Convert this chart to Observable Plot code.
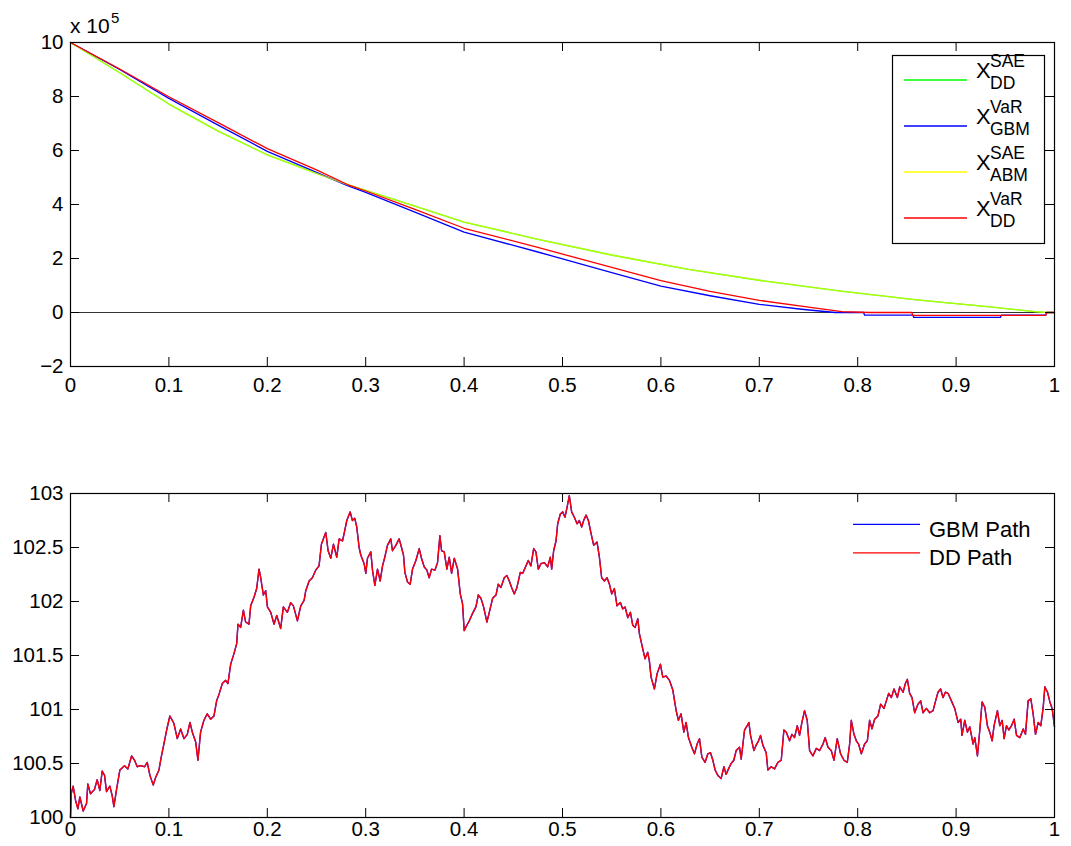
<!DOCTYPE html>
<html><head><meta charset="utf-8">
<script src="https://cdn.jsdelivr.net/npm/d3@7"></script>
<script src="https://cdn.jsdelivr.net/npm/@observablehq/plot@0.6"></script>
<style>
body{margin:0;background:#fff;font-family:"Liberation Sans",Arial,sans-serif;}
#wrap{position:relative;width:1071px;height:846px;overflow:hidden;}
#top,#bot{position:absolute;left:0;}
#top{top:0}
#bot{top:423px}
</style></head><body><div id="wrap"><div id="top"></div><div id="bot"></div></div>
<script>
// ---------- data: top panel (holdings, units of 1e5) ----------
const legendSup = ["SAE", "VaR", "SAE", "VaR"];
const legendSub = ["DD", "GBM", "ABM", "DD"];
const topColors = ["#00ff00", "#0000ff", "#ffff00", "#ff0000"];

const saeDD = [[0,10],[0.05,8.88],[0.1,7.72],[0.15,6.72],[0.2,5.84],[0.25,5.15],[0.2815,4.74],[0.3,4.52],[0.35,3.94],[0.4,3.35],[0.474,2.72],[0.551,2.12],[0.628,1.6],[0.706,1.16],[0.783,0.79],[0.86,0.47],[0.937,0.2],[0.98,0.03],[0.992,0],[1,0]];
const varGBM = [[0,10],[0.05,9.0],[0.1,7.93],[0.15,6.94],[0.2,5.97],[0.25,5.19],[0.2815,4.70],[0.3,4.45],[0.35,3.72],[0.4,2.98],[0.474,2.25],[0.551,1.47],[0.6,0.98],[0.65,0.62],[0.7,0.3],[0.743,0.12],[0.777,0],[0.806,0],[0.807,-0.1],[0.856,-0.1],[0.857,-0.18],[0.945,-0.18],[0.946,-0.1],[0.991,-0.1],[0.992,0],[1,0]];
const saeABM = [[0,10],[0.05,8.88],[0.1,7.72],[0.15,6.72],[0.2,5.84],[0.25,5.15],[0.2815,4.74],[0.3,4.52],[0.35,3.94],[0.4,3.35],[0.474,2.72],[0.551,2.12],[0.628,1.6],[0.706,1.16],[0.783,0.79],[0.86,0.47],[0.937,0.2],[0.98,0.03],[0.992,0],[1,0]];
const varDD = [[0,10],[0.05,9.02],[0.1,7.99],[0.15,7.03],[0.2,6.07],[0.25,5.28],[0.2815,4.74],[0.3,4.5],[0.35,3.82],[0.4,3.12],[0.474,2.42],[0.551,1.66],[0.6,1.18],[0.65,0.78],[0.7,0.45],[0.75,0.2],[0.784,0.03],[0.812,0],[0.855,0],[0.856,-0.11],[0.991,-0.11],[0.992,0],[1,0]];
const topSeries = [saeDD, varGBM, saeABM, varDD];
const topOpacity = [1, 1, 0.7, 1];

const xTicks = [0, 0.1, 0.2, 0.3, 0.4, 0.5, 0.6, 0.7, 0.8, 0.9, 1];
const yTicksTop = [-2, 0, 2, 4, 6, 8, 10];
const yTicksBot = [100, 100.5, 101, 101.5, 102, 102.5, 103];

// ---------- data: bottom panel (price path) ----------
const pathLabels = ["GBM Path", "DD Path"];
const pathColors = ["#0000ff", "#ff0000"];
const pricePath = [
[0,100.00],[0.0007,100.22],[0.0027,100.29],[0.0051,100.16],[0.0075,100.08],[0.0095,100.19],[0.0129,100.06],[0.0163,100.13],[0.0176,100.31],[0.0203,100.22],
[0.0244,100.26],[0.0271,100.35],[0.0298,100.25],[0.0322,100.43],[0.0346,100.39],[0.0366,100.24],[0.0400,100.29],[0.0424,100.20],[0.0441,100.10],[0.0468,100.26],
[0.0502,100.44],[0.0549,100.48],[0.0583,100.45],[0.0621,100.57],[0.0651,100.53],[0.0678,100.47],[0.0712,100.48],[0.0753,100.47],[0.0780,100.51],[0.0807,100.39],
[0.0841,100.30],[0.0865,100.37],[0.0899,100.44],[0.0922,100.56],[0.0949,100.68],[0.0977,100.81],[0.1010,100.94],[0.1034,100.90],[0.1051,100.87],[0.1085,100.73],
[0.1119,100.82],[0.1153,100.73],[0.1187,100.77],[0.1214,100.88],[0.1238,100.79],[0.1272,100.70],[0.1295,100.53],[0.1322,100.79],[0.1356,100.90],[0.1390,100.96],
[0.1424,100.91],[0.1458,100.94],[0.1485,101.08],[0.1509,101.14],[0.1543,101.24],[0.1577,101.27],[0.1600,101.24],[0.1628,101.42],[0.1662,101.52],[0.1689,101.61],
[0.1702,101.79],[0.1729,101.76],[0.1757,101.92],[0.1780,101.81],[0.1814,101.79],[0.1831,101.96],[0.1865,102.04],[0.1892,102.12],[0.1916,102.30],[0.1933,102.22],
[0.1960,102.06],[0.1984,102.10],[0.2001,101.95],[0.2035,101.90],[0.2068,101.79],[0.2096,101.87],[0.2136,101.75],[0.2163,101.95],[0.2204,101.90],[0.2238,101.99],
[0.2265,101.96],[0.2306,101.82],[0.2340,101.96],[0.2374,102.01],[0.2391,102.10],[0.2425,102.19],[0.2458,102.22],[0.2492,102.29],[0.2526,102.33],[0.2550,102.53],
[0.2570,102.58],[0.2594,102.64],[0.2618,102.47],[0.2645,102.40],[0.2672,102.53],[0.2706,102.41],[0.2730,102.58],[0.2764,102.56],[0.2781,102.63],[0.2808,102.75],
[0.2842,102.83],[0.2865,102.75],[0.2889,102.77],[0.2909,102.69],[0.2933,102.50],[0.2950,102.43],[0.2984,102.35],[0.3001,102.26],[0.3018,102.40],[0.3052,102.46],
[0.3069,102.29],[0.3093,102.15],[0.3120,102.30],[0.3147,102.19],[0.3171,102.33],[0.3194,102.41],[0.3221,102.52],[0.3255,102.58],[0.3272,102.47],[0.3306,102.52],
[0.3340,102.58],[0.3364,102.50],[0.3384,102.43],[0.3398,102.27],[0.3425,102.18],[0.3452,102.16],[0.3476,102.30],[0.3510,102.38],[0.3544,102.49],[0.3567,102.40],
[0.3595,102.32],[0.3622,102.29],[0.3645,102.22],[0.3669,102.30],[0.3703,102.29],[0.3730,102.36],[0.3754,102.61],[0.3771,102.47],[0.3798,102.46],[0.3825,102.30],
[0.3849,102.41],[0.3873,102.26],[0.3900,102.40],[0.3934,102.30],[0.3961,102.07],[0.3984,101.98],[0.4001,101.73],[0.4028,101.78],[0.4052,101.82],[0.4086,101.89],
[0.4120,101.95],[0.4144,102.06],[0.4171,102.03],[0.4198,101.95],[0.4232,101.81],[0.4256,101.90],[0.4290,102.03],[0.4324,102.06],[0.4347,102.16],[0.4374,102.13],
[0.4408,102.22],[0.4435,102.24],[0.4459,102.19],[0.4483,102.13],[0.4510,102.07],[0.4537,102.13],[0.4571,102.27],[0.4595,102.26],[0.4629,102.33],[0.4652,102.38],
[0.4679,102.33],[0.4707,102.49],[0.4730,102.46],[0.4754,102.30],[0.4781,102.35],[0.4815,102.36],[0.4849,102.32],[0.4876,102.41],[0.4890,102.30],[0.4910,102.47],
[0.4934,102.56],[0.4951,102.72],[0.4978,102.81],[0.5002,102.83],[0.5025,102.78],[0.5046,102.87],[0.5069,102.98],[0.5093,102.83],[0.5120,102.78],[0.5148,102.72],
[0.5171,102.75],[0.5195,102.69],[0.5215,102.75],[0.5239,102.80],[0.5263,102.75],[0.5290,102.63],[0.5317,102.52],[0.5351,102.55],[0.5375,102.41],[0.5398,102.22],
[0.5426,102.19],[0.5453,102.22],[0.5477,102.16],[0.5500,102.07],[0.5527,102.12],[0.5554,101.96],[0.5588,101.99],[0.5612,101.93],[0.5636,101.95],[0.5663,101.85],
[0.5690,101.90],[0.5714,101.78],[0.5738,101.76],[0.5765,101.84],[0.5782,101.70],[0.5816,101.56],[0.5839,101.47],[0.5866,101.53],[0.5883,101.45],[0.5900,101.30],
[0.5934,101.19],[0.5961,101.33],[0.5995,101.42],[0.6019,101.30],[0.6053,101.31],[0.6087,101.27],[0.6121,101.18],[0.6155,100.99],[0.6178,100.90],[0.6205,100.96],
[0.6233,100.79],[0.6256,100.88],[0.6280,100.74],[0.6314,100.65],[0.6341,100.59],[0.6368,100.68],[0.6392,100.73],[0.6416,100.56],[0.6449,100.51],[0.6477,100.59],
[0.6504,100.60],[0.6528,100.53],[0.6551,100.44],[0.6579,100.39],[0.6612,100.36],[0.6640,100.47],[0.6663,100.40],[0.6687,100.45],[0.6714,100.50],[0.6741,100.53],
[0.6765,100.62],[0.6799,100.65],[0.6816,100.54],[0.6850,100.81],[0.6877,100.85],[0.6894,100.88],[0.6911,100.76],[0.6945,100.62],[0.6968,100.67],[0.6992,100.71],
[0.7012,100.76],[0.7036,100.67],[0.7070,100.60],[0.7087,100.44],[0.7121,100.47],[0.7155,100.45],[0.7189,100.51],[0.7223,100.53],[0.7250,100.81],[0.7274,100.79],
[0.7308,100.71],[0.7331,100.77],[0.7358,100.74],[0.7386,100.85],[0.7409,100.76],[0.7433,100.88],[0.7460,100.99],[0.7487,100.90],[0.7511,100.62],[0.7545,100.57],
[0.7579,100.64],[0.7613,100.62],[0.7647,100.68],[0.7670,100.74],[0.7698,100.65],[0.7731,100.62],[0.7759,100.53],[0.7792,100.73],[0.7826,100.59],[0.7860,100.53],
[0.7894,100.51],[0.7918,100.68],[0.7935,100.90],[0.7962,100.77],[0.7986,100.71],[0.8009,100.68],[0.8037,100.59],[0.8070,100.68],[0.8098,100.71],[0.8121,100.90],
[0.8145,100.82],[0.8172,100.91],[0.8206,100.94],[0.8233,101.05],[0.8267,101.01],[0.8291,101.08],[0.8315,101.15],[0.8342,101.11],[0.8369,101.19],[0.8403,101.11],
[0.8427,101.21],[0.8461,101.16],[0.8484,101.24],[0.8505,101.28],[0.8528,101.15],[0.8552,101.11],[0.8579,100.97],[0.8613,101.05],[0.8640,101.08],[0.8664,100.97],
[0.8698,101.01],[0.8732,100.97],[0.8766,100.99],[0.8789,101.07],[0.8816,101.16],[0.8843,101.19],[0.8867,101.11],[0.8891,101.16],[0.8918,101.15],[0.8952,101.08],
[0.8986,101.01],[0.9020,100.88],[0.9047,100.91],[0.9060,100.76],[0.9088,100.90],[0.9115,100.79],[0.9139,100.84],[0.9173,100.68],[0.9190,100.74],[0.9217,100.57],
[0.9241,100.81],[0.9264,101.07],[0.9292,101.02],[0.9318,100.85],[0.9342,100.79],[0.9366,100.71],[0.9386,100.85],[0.9420,100.99],[0.9444,100.85],[0.9468,100.90],
[0.9488,100.73],[0.9512,100.85],[0.9536,100.81],[0.9563,100.85],[0.9590,100.91],[0.9614,100.76],[0.9648,100.74],[0.9682,100.82],[0.9705,100.77],[0.9732,101.08],
[0.9759,101.10],[0.9783,100.96],[0.9807,100.77],[0.9834,100.88],[0.9861,100.85],[0.9885,101.02],[0.9902,101.21],[0.9929,101.16],[0.9953,101.07],[0.9976,101.01],
[1.0,100.84]
];
const pathSeries = [pricePath, pricePath];
const pathWidths = [1.4, 1.3];

// ---------- layout ----------
const W = 1071, H = 423;
const mL = 70, mR = 17;
const mT1 = 42, mB1 = 57;
const mT2 = 70, mB2 = 29;
const innerW = W - mL - mR;
const innerH1 = H - mT1 - mB1;
const innerH2 = H - mT2 - mB2;
const font = "'Liberation Sans', Arial, Helvetica, sans-serif";
const fmtY1 = d => d < 0 ? "\u2212" + (-d) : String(d);
const toRows = arr => arr.map(([t, v]) => ({t, v}));

function boxTicks(innerH, yTicks) {
  return [
    Plot.tickX(xTicks, {x: d => d, insetTop: innerH - 9, stroke: "#000"}),
    Plot.tickX(xTicks, {x: d => d, insetBottom: innerH - 9, stroke: "#000"}),
    Plot.tickY(yTicks, {y: d => d, insetRight: innerW - 9, stroke: "#000"}),
    Plot.tickY(yTicks, {y: d => d, insetLeft: innerW - 9, stroke: "#000"}),
    Plot.frame({stroke: "#000", strokeWidth: 1.2})
  ];
}

function addText(sel, x, y, size, str) {
  return sel.append("text").attr("x", x).attr("y", y).attr("font-size", size)
    .attr("text-anchor", "start").attr("fill", "#000").attr("font-family", font).text(str);
}

// ---------- top panel ----------
const topPlot = Plot.plot({
  width: W, height: H,
  marginLeft: mL, marginRight: mR, marginTop: mT1, marginBottom: mB1,
  style: {fontFamily: font, fontSize: "20.5px", color: "#000", background: "#fff", overflow: "visible"},
  x: {domain: [0, 1]},
  y: {domain: [-2, 10]},
  marks: [
    Plot.ruleY([0], {stroke: "#333", strokeWidth: 1}),
    ...topSeries.map((s, i) => Plot.line(toRows(s), {x: "t", y: "v", stroke: topColors[i], strokeWidth: 1.3, strokeOpacity: topOpacity[i]})),
    Plot.axisX({ticks: xTicks, tickSize: 0, tickPadding: 11, tickFormat: d => String(d), label: null}),
    Plot.axisY({ticks: yTicksTop, tickSize: 0, tickPadding: 7, tickFormat: fmtY1, label: null}),
    ...boxTicks(innerH1, yTicksTop)
  ]
});
document.getElementById("top").appendChild(topPlot);

{
  const svg = d3.select(topPlot);
  // exponent label
  addText(svg, 70, 33, 21, "x 10");
  addText(svg, 111, 23, 15, "5");
  // legend
  const lg = svg.append("g");
  lg.append("rect").attr("x", 892.5).attr("y", 55.5).attr("width", 152).attr("height", 188)
    .attr("fill", "#fff").attr("stroke", "#000").attr("stroke-width", 1.2);
  legendSup.forEach((sup, i) => {
    const ly = 80 + 46 * i;
    lg.append("line").attr("x1", 904).attr("x2", 967).attr("y1", ly).attr("y2", ly)
      .attr("stroke", topColors[i]).attr("stroke-width", 1.3);
    addText(lg, 976, ly - 2.5, 22, "X");
    addText(lg, 990, ly - 13, 17.5, sup);
    addText(lg, 990, ly + 9, 17.5, legendSub[i]);
  });
}

// ---------- bottom panel ----------
const botPlot = Plot.plot({
  width: W, height: H,
  marginLeft: mL, marginRight: mR, marginTop: mT2, marginBottom: mB2,
  style: {fontFamily: font, fontSize: "20.5px", color: "#000", background: "#fff", overflow: "visible"},
  x: {domain: [0, 1]},
  y: {domain: [100, 103]},
  marks: [
    ...pathSeries.map((s, i) => Plot.line(toRows(s), {x: "t", y: "v", stroke: pathColors[i], strokeWidth: pathWidths[i]})),
    Plot.axisX({ticks: xTicks, tickSize: 0, tickPadding: 4, tickFormat: d => String(d), label: null}),
    Plot.axisY({ticks: yTicksBot, tickSize: 0, tickPadding: 7, tickFormat: d => String(d), label: null}),
    ...boxTicks(innerH2, yTicksBot)
  ]
});
document.getElementById("bot").appendChild(botPlot);

{
  const svg = d3.select(botPlot);
  const lg = svg.append("g");
  pathLabels.forEach((lab, i) => {
    const ly = 101.3 + 28.5 * i;
    lg.append("line").attr("x1", 853).attr("x2", 920).attr("y1", ly).attr("y2", ly)
      .attr("stroke", pathColors[i]).attr("stroke-width", 1.3);
    addText(lg, 929, ly + 12.5, 22, lab);
  });
}
</script>
</body></html>
